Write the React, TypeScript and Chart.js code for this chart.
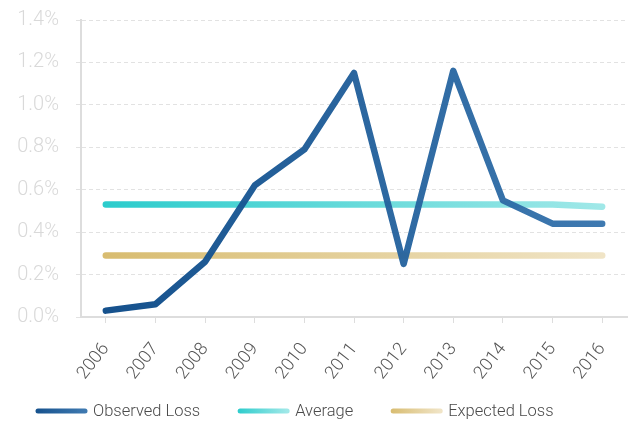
import React, { useEffect, useRef } from "react";
import { Chart, registerables } from "chart.js";

Chart.register(...registerables);

const years = ["2006", "2007", "2008", "2009", "2010", "2011", "2012", "2013", "2014", "2015", "2016"];
const observedLoss = [0.03, 0.06, 0.26, 0.62, 0.79, 1.15, 0.25, 1.16, 0.55, 0.44, 0.44];
const average = [0.53, 0.53, 0.53, 0.53, 0.53, 0.53, 0.53, 0.53, 0.53, 0.53, 0.52];
const expectedLoss = [0.29, 0.29, 0.29, 0.29, 0.29, 0.29, 0.29, 0.29, 0.29, 0.29, 0.29];
const yTicks = [0, 0.2, 0.4, 0.6, 0.8, 1.0, 1.2, 1.4];

const gradStops: Record<string, [string, string]> = {
  "Observed Loss": ["rgba(12,74,136,0.96)", "rgba(52,114,172,0.95)"],
  Average: ["rgba(44,204,204,1)", "rgba(160,232,232,1)"],
  "Expected Loss": ["rgba(216,188,112,1)", "rgba(240,228,198,1)"],
};

const FONT = "Roboto";

function lineGradient(chart: any, label: string) {
  const area = chart.chartArea;
  if (!area) return gradStops[label][0];
  const xs = chart.scales.x;
  const x0 = xs.getPixelForValue(0);
  const x1 = xs.getPixelForValue(years.length - 1);
  const g = chart.ctx.createLinearGradient(x0, 0, x1, 0);
  g.addColorStop(0, gradStops[label][0]);
  g.addColorStop(1, gradStops[label][1]);
  return g;
}

// Legend drawn on the canvas: gradient line sample + label, left aligned.
const gradientLegendPlugin = {
  id: "gradientLegend",
  afterDraw(chart: any) {
    const ctx = chart.ctx;
    const y = 412;
    const lineLen = 50;
    const gapText = 8;
    const gapItem = 37;
    let x = 35;
    ctx.save();
    ctx.font = `300 16.5px ${FONT}`;
    ctx.textBaseline = "middle";
    ctx.textAlign = "left";
    chart.data.datasets.forEach((ds: any) => {
      const stops = gradStops[ds.label];
      const g = ctx.createLinearGradient(x, 0, x + lineLen, 0);
      g.addColorStop(0, stops[0]);
      g.addColorStop(1, stops[1]);
      ctx.strokeStyle = g;
      ctx.lineWidth = 5;
      ctx.lineCap = "round";
      ctx.beginPath();
      ctx.moveTo(x + 3, y - 1);
      ctx.lineTo(x + lineLen, y - 1);
      ctx.stroke();
      const tx = x + lineLen + gapText;
      ctx.fillStyle = "#4a4a4a";
      ctx.fillText(ds.label, tx, y);
      x = tx + ctx.measureText(ds.label).width + gapItem;
    });
    ctx.restore();
  },
};

export default function App() {
  const ref = useRef<HTMLCanvasElement | null>(null);
  useEffect(() => {
    if (!ref.current) return;
    const mk = (label: string, data: number[], order: number) => ({
      label,
      data,
      order,
      borderColor: (ctx: any) => lineGradient(ctx.chart, label),
      backgroundColor: gradStops[label][0],
      borderWidth: 6.5,
      borderCapStyle: "round" as const,
      borderJoinStyle: "round" as const,
      pointRadius: 0,
      pointHoverRadius: 0,
      tension: 0,
      fill: false,
    });
    const chart = new Chart(ref.current, {
      type: "line",
      data: {
        labels: years,
        datasets: [
          mk("Observed Loss", observedLoss, 0),
          mk("Average", average, 1),
          mk("Expected Loss", expectedLoss, 2),
        ],
      },
      plugins: [gradientLegendPlugin],
      options: {
        responsive: false,
        animation: false,
        devicePixelRatio: 1,
        layout: { padding: { left: -2, right: 3, top: 20, bottom: 0 } },
        plugins: {
          tooltip: { enabled: false },
          legend: { display: false },
        },
        scales: {
          x: {
            offset: true,
            afterFit: (s: any) => {
              s.height = 104;
              s.paddingLeft = 0;
              s.paddingRight = 0;
            },
            grid: {
              display: true,
              drawOnChartArea: false,
              drawTicks: true,
              tickLength: 6,
              color: "#dddddd",
            },
            border: { display: true, color: "#dddddd", width: 2 },
            ticks: {
              minRotation: 52,
              maxRotation: 52,
              padding: 16,
              color: "#555555",
              font: { family: FONT, size: 18, weight: "300" },
            },
          },
          y: {
            min: 0,
            max: 1.4,
            afterFit: (s: any) => {
              s.width = 83;
              s.paddingTop = 0;
              s.paddingBottom = 0;
            },
            afterBuildTicks: (s: any) => {
              s.ticks = yTicks.map((v) => ({ value: v }));
            },
            grid: {
              color: "#e2e2e2",
              tickLength: 5,
              lineWidth: 1,
            },
            border: { display: true, color: "#dddddd", width: 2, dash: [4, 3] },
            ticks: {
              padding: 17,
              color: "#d9d9d9",
              font: { family: FONT, size: 20, weight: "300" },
              callback: (v: any) => Number(v).toFixed(1) + "%",
            },
          },
        },
      },
    });
    return () => chart.destroy();
  }, []);
  return (
    <div style={{ position: "fixed", left: 0, top: 0, width: 630, height: 421, background: "#fff" }}>
      <canvas ref={ref} width={630} height={421} style={{ display: "block" }} />
    </div>
  );
}
